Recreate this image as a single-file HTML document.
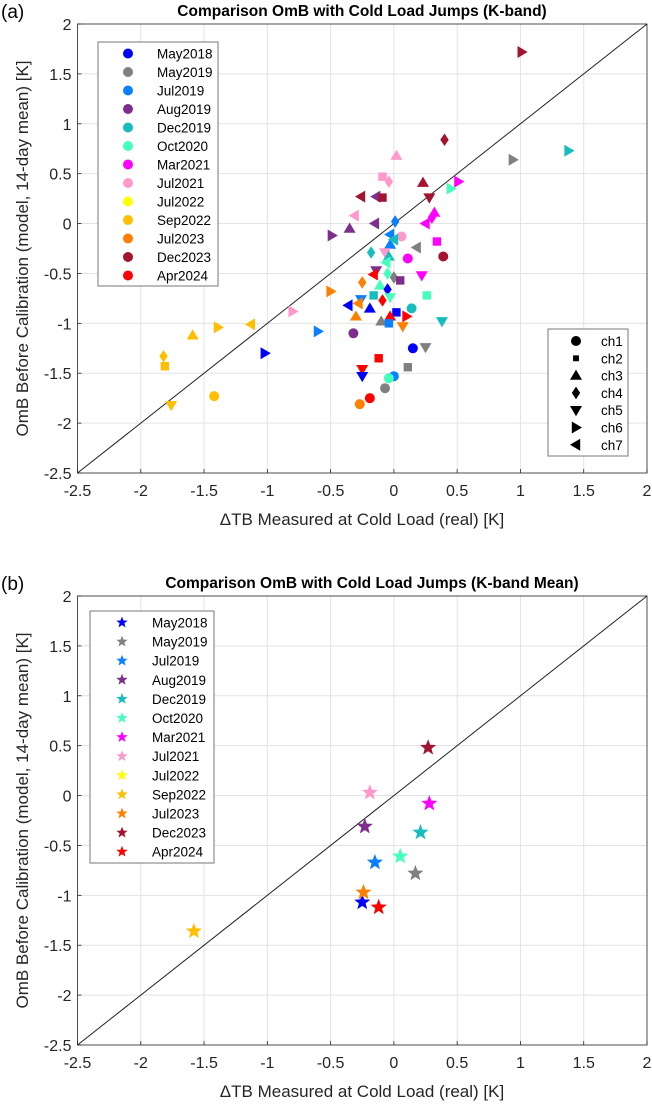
<!DOCTYPE html>
<html><head><meta charset="utf-8"><style>
html,body{margin:0;padding:0;background:#fff;}
svg{display:block;font-family:"Liberation Sans",Arial,sans-serif;}
</style></head><body>
<svg id="fig" width="652" height="1114" viewBox="0 0 652 1114" xmlns="http://www.w3.org/2000/svg"></svg>
<script>
const periods = ["May2018","May2019","Jul2019","Aug2019","Dec2019","Oct2020","Mar2021","Jul2021","Jul2022","Sep2022","Jul2023","Dec2023","Apr2024"];
const periodColors = ["#0000FF","#808080","#0A7FFF","#7E2F8E","#17BDBD","#45FFBF","#FF00FF","#FF99CC","#FFFF00","#FFBF00","#FF8000","#A2142F","#FF0000"];
const channels = ["ch1","ch2","ch3","ch4","ch5","ch6","ch7"];
const ticks = [-2.5,-2,-1.5,-1,-0.5,0,0.5,1,1.5,2];
const tickLabels = ["-2.5","-2","-1.5","-1","-0.5","0","0.5","1","1.5","2"];
// Panel (a): period index, channel (1..7), dTB, OmB
const aPeriod = [11,11,7,1,4,11,6,5,7,7,11,3,11,11,7,3,2,6,6,6,3,3,2,7,1,6,2,4,4,7,4,6,11,5,5,3,12,1,3,6,10,10,5,0,4,5,5,12,2,10,0,0,4,10,0,12,12,1,2,10,4,2,3,0,1,12,1,12,0,2,5,1,12,10,7,0,9,9,9,9,9,9,9];
const aChan = [6,4,3,6,6,3,6,6,2,4,7,7,2,5,7,7,4,3,4,7,6,3,7,1,7,2,3,7,4,5,3,1,1,7,4,5,7,4,2,5,4,6,3,4,2,2,5,4,5,7,7,3,1,3,2,3,6,3,2,5,5,6,1,1,5,2,2,5,5,1,1,1,1,1,6,6,3,6,7,4,2,1,5];
const aX = [1.01,0.40,0.02,0.94,1.38,0.23,0.51,0.45,-0.09,-0.04,-0.26,-0.14,-0.09,0.28,-0.31,-0.15,0.01,0.32,0.30,0.25,-0.49,-0.35,-0.03,0.06,0.18,0.34,-0.03,0.0,-0.18,-0.07,-0.04,0.11,0.39,-0.06,-0.05,-0.14,-0.16,0.0,0.05,0.22,-0.25,-0.50,-0.11,-0.05,-0.16,0.26,-0.03,-0.09,-0.26,-0.28,-0.36,-0.19,0.14,-0.30,0.02,-0.03,0.10,-0.10,-0.04,0.07,0.38,-0.60,-0.32,0.15,0.25,-0.12,0.11,-0.25,-0.25,0.0,-0.04,-0.07,-0.19,-0.27,-0.80,-1.02,-1.59,-1.39,-1.13,-1.82,-1.81,-1.42,-1.76];
const aY = [1.72,0.84,0.68,0.64,0.73,0.41,0.42,0.35,0.47,0.42,0.27,0.27,0.26,0.26,0.08,0.0,0.02,0.11,0.06,0.0,-0.12,-0.05,-0.11,-0.13,-0.24,-0.18,-0.21,-0.16,-0.29,-0.29,-0.33,-0.35,-0.33,-0.39,-0.50,-0.47,-0.51,-0.54,-0.57,-0.52,-0.59,-0.68,-0.62,-0.66,-0.72,-0.72,-0.74,-0.77,-0.76,-0.80,-0.82,-0.85,-0.85,-0.93,-0.89,-0.93,-0.93,-0.98,-1.00,-1.03,-0.98,-1.08,-1.10,-1.25,-1.24,-1.35,-1.44,-1.46,-1.53,-1.53,-1.55,-1.65,-1.75,-1.81,-0.88,-1.30,-1.12,-1.04,-1.01,-1.33,-1.43,-1.73,-1.82];
// Panel (b): K-band mean per period (null = no data)
const bX = [-0.25,0.17,-0.15,-0.23,0.21,0.05,0.28,-0.19,null,-1.58,-0.24,0.27,-0.12];
const bY = [-1.07,-0.78,-0.67,-0.31,-0.37,-0.61,-0.08,0.03,null,-1.36,-0.97,0.48,-1.12];

const NS="http://www.w3.org/2000/svg";
const svg=document.getElementById('fig');
function mk(tag,attrs,parent){const e=document.createElementNS(NS,tag);for(const k in attrs)e.setAttribute(k,attrs[k]);(parent||svg).appendChild(e);return e;}
function txt(s,attrs,parent){const e=mk('text',attrs,parent);e.textContent=s;return e;}

function marker(ch,cx,cy,s,color,parent){
  let e;
  if(ch===1){e=mk('circle',{cx:cx,cy:cy,r:s*0.5,fill:color},parent);}
  else if(ch===2){const h=s*0.42;e=mk('rect',{x:cx-h,y:cy-h,width:2*h,height:2*h,fill:color},parent);}
  else{
    let p;const r=s*0.6;
    if(ch===3)p=[[cx,cy-r],[cx+r,cy+r*0.7],[cx-r,cy+r*0.7]];
    else if(ch===4)p=[[cx,cy-r*1.05],[cx+r*0.7,cy],[cx,cy+r*1.05],[cx-r*0.7,cy]];
    else if(ch===5)p=[[cx-r,cy-r*0.7],[cx+r,cy-r*0.7],[cx,cy+r]];
    else if(ch===6)p=[[cx-r*0.7,cy-r],[cx+r,cy],[cx-r*0.7,cy+r]];
    else p=[[cx+r*0.7,cy-r],[cx-r,cy],[cx+r*0.7,cy+r]];
    e=mk('polygon',{points:p.map(q=>q.join(',')).join(' '),fill:color},parent);
  }
  return e;
}
function star(cx,cy,R,color,parent){
  const pts=[];for(let i=0;i<10;i++){const a=-Math.PI/2+i*Math.PI/5;const r=i%2?R*0.42:R;pts.push((cx+r*Math.cos(a)).toFixed(1)+','+(cy+r*Math.sin(a)).toFixed(1));}
  return mk('polygon',{points:pts.join(' '),fill:color},parent);
}

function axes(top,title,label,titleX,nm){
  const L=77.5,R=647,T=top,B=top+449;
  const sx=v=>L+(v+2.5)*(R-L)/4.5;
  const sy=v=>T+(2-v)*(B-T)/4.5;
  const g=mk('g',{});
  
  
  mk('rect',{x:L,y:T,width:R-L,height:B-T,fill:'#fff'},g);
  ticks.forEach((t,i)=>{
    const gx=mk('line',{x1:sx(t),x2:sx(t),y1:T,y2:B,stroke:'#e3e3e3','stroke-width':1},g);
    
    const gy=mk('line',{x1:L,x2:R,y1:sy(t),y2:sy(t),stroke:'#e3e3e3','stroke-width':1},g);
    
    const xl=txt(tickLabels[i],{x:sx(t),y:B+23,'text-anchor':'middle','font-size':16,fill:'#262626'},g);
    
    const yl=txt(tickLabels[i],{x:L-6,y:sy(t)+6,'text-anchor':'end','font-size':16,fill:'#262626'},g);
    
    mk('line',{x1:sx(t),x2:sx(t),y1:B,y2:B-4,stroke:'#262626','stroke-width':0.8},g);
    mk('line',{x1:L,x2:L+4,y1:sy(t),y2:sy(t),stroke:'#262626','stroke-width':0.8},g);
  });
  const d=mk('line',{x1:sx(-2.5),y1:sy(-2.5),x2:sx(2),y2:sy(2),stroke:'#222','stroke-width':1},g);
  
  const bx=mk('rect',{x:L,y:T,width:R-L,height:B-T,fill:'none',stroke:'#262626','stroke-width':0.8},g);
  
  const tt=txt(title,{x:titleX,y:top-8,'text-anchor':'middle','font-size':15.5,'font-weight':'bold',fill:'#000'});
  
  const pl=txt(label,{x:1,y:top-6,'font-size':19,fill:'#000'});
  
  const xt=txt('\u0394TB Measured at Cold Load (real) [K]',{x:362,y:B+52,'text-anchor':'middle','font-size':17,fill:'#262626'});
  
  const yt=txt('OmB Before Calibration (model, 14-day mean) [K]',{x:0,y:0,'text-anchor':'middle','font-size':17,fill:'#262626',transform:`translate(28,${(T+B)/2}) rotate(-90)`});
  
  return {sx,sy,g};
}

// Panel a
const A=axes(24,'Comparison OmB with Cold Load Jumps (K-band)','(a)',362,'panel-a');
const ga=mk('g',{});


for(let i=0;i<aX.length;i++){
  const m=marker(aChan[i],A.sx(aX[i]),A.sy(aY[i]),10,periodColors[aPeriod[i]],ga);
  
  
}
// legend a (periods)
const la=mk('g',{});


mk('rect',{x:98,y:42,width:120,height:244,fill:'#fff',stroke:'#777','stroke-width':1},la);
periods.forEach((p,i)=>{
  const y=53.5+i*18.5;
  const c=mk('circle',{cx:128,cy:y,r:5,fill:periodColors[i]},la);
  
  const t=txt(p,{x:157,y:y+5,'font-size':13.5,fill:'#000'},la);
  
});
// channel legend
const lc=mk('g',{});


mk('rect',{x:548,y:329,width:80,height:127,fill:'#fff',stroke:'#777','stroke-width':1},lc);
channels.forEach((c,i)=>{
  const y=341+i*17.3;
  const m=marker(i+1,576,y,i===1?7:10,'#000',lc);
  
  const t=txt(c,{x:601,y:y+5,'font-size':13.5,fill:'#000'},lc);
  
});

// Panel b
const B=axes(596,'Comparison OmB with Cold Load Jumps (K-band Mean)','(b)',372,'panel-b');
const gb=mk('g',{});


for(let i=0;i<bX.length;i++){
  if(bX[i]===null)continue;
  const s=star(B.sx(bX[i]),B.sy(bY[i]),8.5,periodColors[i],gb);
  
  
}
const lb=mk('g',{});


mk('rect',{x:90,y:611,width:124,height:252,fill:'#fff',stroke:'#777','stroke-width':1},lb);
periods.forEach((p,i)=>{
  const y=622.5+i*19.1;
  const s=star(122,y,6,periodColors[i],lb);
  
  const t=txt(p,{x:152,y:y+5,'font-size':13.5,fill:'#000'},lb);
  
});
</script>
</body></html>
